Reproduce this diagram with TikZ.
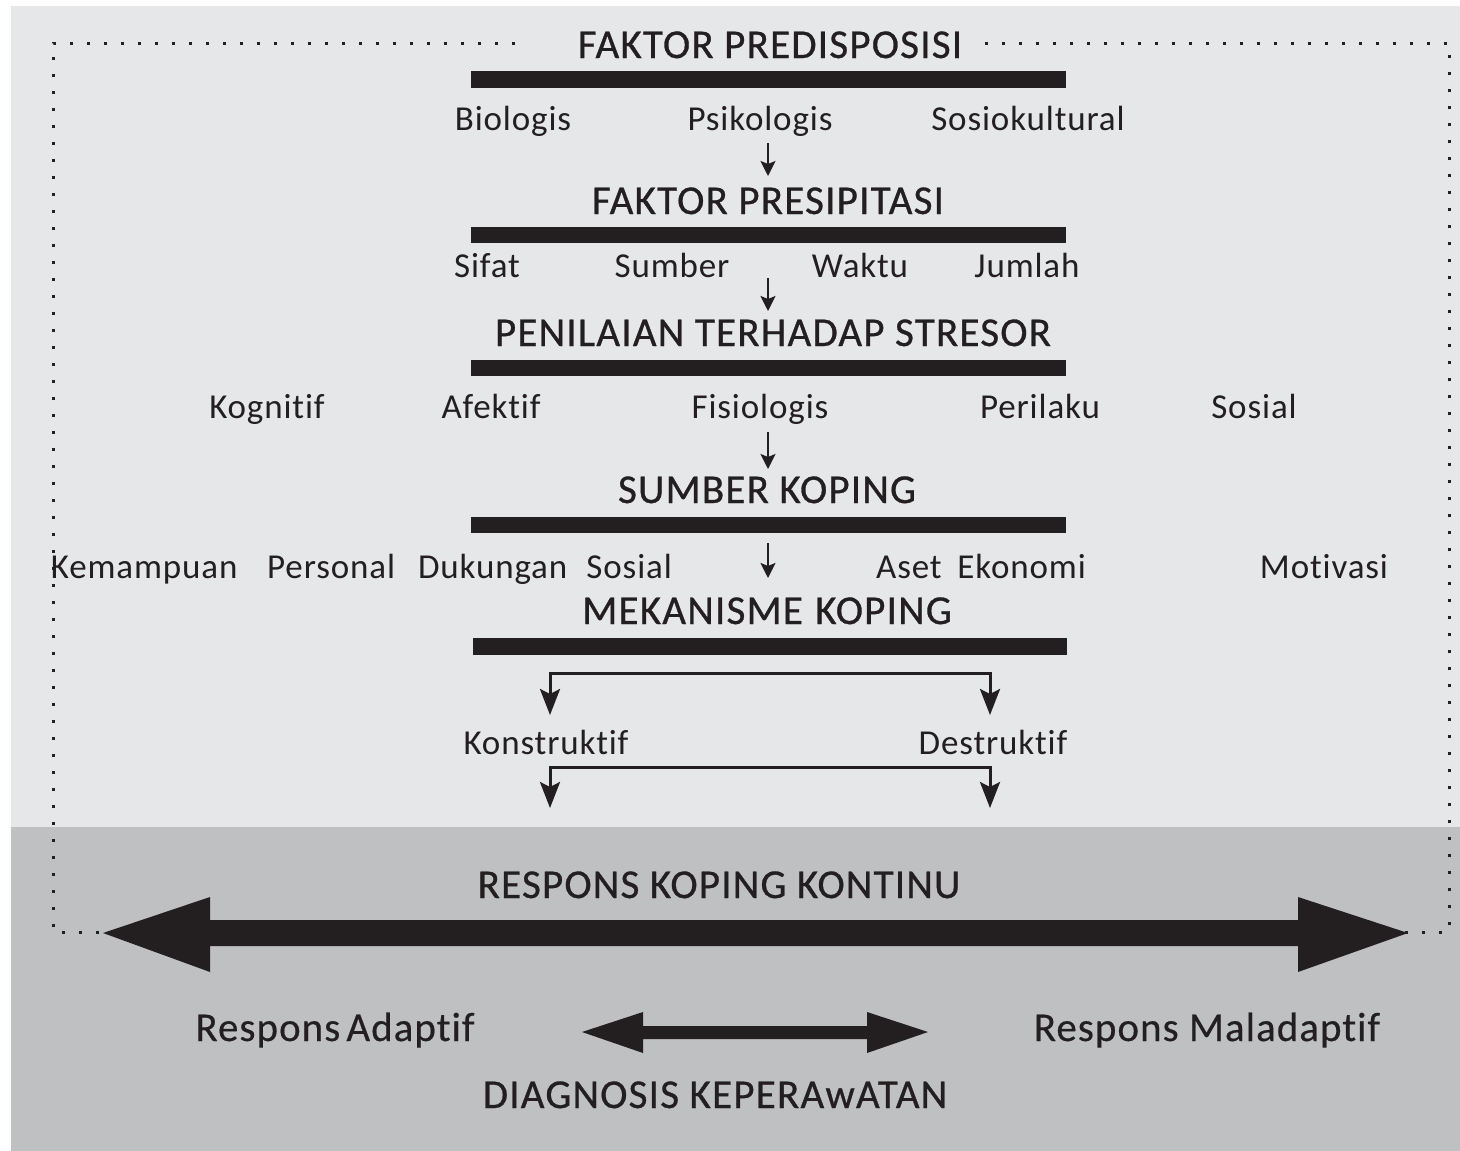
\documentclass[tikz,border=0pt]{standalone}
\usepackage{fontspec}
\usetikzlibrary{arrows.meta}
\newfontfamily\lblfont{Carlito}[LetterSpace=2.5,Ligatures=NoCommon]
\newfontfamily\bigfont{Carlito}[LetterSpace=2.5,Ligatures=NoCommon,FakeBold=0.4]
\newfontfamily\ttlfont{Carlito}[LetterSpace=3,Ligatures=NoCommon,FakeBold=0.7]
\definecolor{ink}{HTML}{231F20}
\definecolor{bglight}{HTML}{E6E7E8}
\definecolor{bgdark}{HTML}{BFC0C2}
\tikzset{
  ttl/.style={font=\fontsize{41}{41}\selectfont\ttlfont, text=ink, inner sep=0pt, anchor=base},
  lbl/.style={font=\fontsize{35}{35}\selectfont\lblfont, text=ink, inner sep=0pt, anchor=base},
  big/.style={font=\fontsize{41}{41}\selectfont\bigfont, text=ink, inner sep=0pt, anchor=base},
  sarrow/.style={draw=ink, line width=2.2pt, -{Stealth[length=15pt,width=15pt,inset=3pt]}},
  barrow/.style={draw=ink, line width=3pt, {Stealth[length=26pt,width=20pt,inset=5pt]}-{Stealth[length=26pt,width=20pt,inset=5pt]}},
  barfill/.style={fill=ink},
  dotted box/.style={draw=ink, line width=3pt, dash pattern=on 3pt off 14pt},
}
\begin{document}
\begin{tikzpicture}[x=1pt,y=-1pt]
\useasboundingbox (0,0) rectangle (1460,1151);
\fill[white] (0,0) rectangle (1460,1151);
\fill[bglight] (11,6) rectangle (1460,827);
\fill[bgdark] (11,827) rectangle (1460,1151);
% dotted frame
\draw[dotted box] (515,43) -- (53,43) -- (53,932) -- (1449,932) -- (1449,43) -- (985,43);
% bars
\fill[barfill] (471,71) rectangle (1066,88);
\fill[barfill] (471,227) rectangle (1066,243);
\fill[barfill] (471,360) rectangle (1066,376);
\fill[barfill] (471,517) rectangle (1066,533);
\fill[barfill] (473,638) rectangle (1067,655);
% titles
\node[ttl] (t1) at (770,58) {FAKTOR PREDISPOSISI};
\node[ttl] (t2) at (768,214) {FAKTOR PRESIPITASI};
\node[ttl] (t3) at (773,346) {PENILAIAN TERHADAP STRESOR};
\node[ttl] (t4) at (767,503) {SUMBER KOPING};
\node[ttl] (t5) at (767,624) {MEKANISME\hspace{0.3em}KOPING};
% row 1
\node[lbl] (biol) at (513,130) {Biologis};
\node[lbl] (psik) at (760,130) {Psikologis};
\node[lbl] (sosk) at (1028,130) {Sosiokultural};
\coordinate (a1s) at (768,143); \coordinate (a1e) at (768,176);
\draw[sarrow] (a1s) -- (a1e);
% row 2
\node[lbl] (sifat) at (487,277) {Sifat};
\node[lbl] (sumber) at (672,277) {Sumber};
\node[lbl] (waktu) at (860,277) {Waktu};
\node[lbl] (jumlah) at (1027,277) {Jumlah};
\coordinate (a2s) at (768,278); \coordinate (a2e) at (768,311);
\draw[sarrow] (a2s) -- (a2e);
% row 3
\node[lbl] (kog) at (267,418) {Kognitif};
\node[lbl] (afe) at (491,418) {Afektif};
\node[lbl] (fis) at (760,418) {Fisiologis};
\node[lbl] (per) at (1040,418) {Perilaku};
\node[lbl] (sos) at (1254,418) {Sosial};
\coordinate (a3s) at (768,432); \coordinate (a3e) at (768,469);
\draw[sarrow] (a3s) -- (a3e);
% row 4
\node[lbl] (kp) at (223,578) {Kemampuan\hspace{0.85em}Personal};
\node[lbl] (ds) at (545,578) {Dukungan\hspace{0.55em}Sosial};
\node[lbl] (ae) at (981,578) {Aset\hspace{0.45em}Ekonomi};
\node[lbl] (mot) at (1324,578) {Motivasi};
\coordinate (a4s) at (768,543); \coordinate (a4e) at (768,578);
\draw[sarrow] (a4s) -- (a4e);
% brackets
\coordinate (b1l) at (550,715); \coordinate (b1r) at (990,715);
\draw[barrow] (b1l) -- (550,673) -- (990,673) -- (b1r);
\node[lbl] (kons) at (546,754) {Konstruktif};
\node[lbl] (des) at (993,754) {Destruktif};
\coordinate (b2l) at (550,808); \coordinate (b2r) at (990,808);
\draw[barrow] (b2l) -- (550,767) -- (990,767) -- (b2r);
% continuum
\node[ttl] (rkk) at (719,898) {RESPONS KOPING KONTINU};
\fill[ink] (103,933) -- (210,897) -- (210,920) -- (1298,920) -- (1298,897) -- (1408,933)
  -- (1298,972) -- (1298,946) -- (210,946) -- (210,972) -- cycle;
\node[big] (ra) at (335,1041) {Respons\hspace{0.15em}Adaptif};
\node[big] (rm) at (1207,1041) {Respons Maladaptif};
\fill[ink] (582,1032) -- (643,1012) -- (643,1026) -- (867,1026) -- (867,1012) -- (928,1032)
  -- (867,1053) -- (867,1039) -- (643,1039) -- (643,1053) -- cycle;
\node[ttl] (dk) at (715,1108) {DIAGNOSIS KEPERAwATAN};
\end{tikzpicture}
\end{document}
